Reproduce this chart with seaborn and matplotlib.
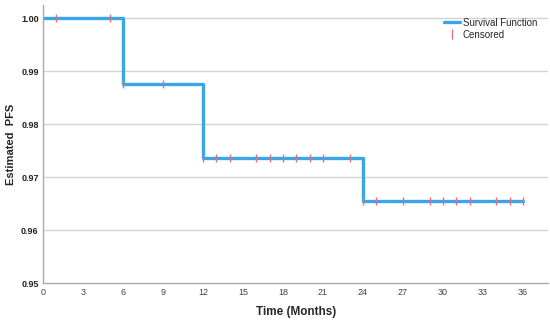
import seaborn as sns
import pandas as pd
import matplotlib.pyplot as plt
from matplotlib.lines import Line2D

# survival function (step changes)
step_time = [0, 6, 12, 24, 36]
step_surv = [1.0, 0.9875, 0.9737, 0.9656, 0.9656]

# censored observations
cens_time = [1, 5, 6, 9, 12, 13, 14, 16, 17, 18, 19, 20, 21, 23,
             24, 25, 27, 29, 30, 31, 32, 34, 35, 36]
cens_surv = [1.0, 1.0, 0.9875, 0.9875] + [0.9737] * 10 + [0.9656] * 10

x_ticks = list(range(0, 37, 3))
y_ticks = [0.95, 0.96, 0.97, 0.98, 0.99, 1.00]

sns.set_style('white')
plt.rcParams['font.family'] = ['Liberation Sans', 'DejaVu Sans']

line_color = '#3aa6e6'
cens_color = '#e0707e'

df_step = pd.DataFrame({'Time': step_time, 'Survival': step_surv})
df_cens = pd.DataFrame({'Time': cens_time, 'Survival': cens_surv})

fig, ax = plt.subplots(figsize=(5.5, 3.22), dpi=100)
fig.subplots_adjust(left=0.078, right=0.997, top=0.985, bottom=0.12)

for y in y_ticks[1:]:
    ax.axhline(y, color='#d4d4d4', lw=1.0, zorder=0)

sns.lineplot(data=df_step, x='Time', y='Survival', drawstyle='steps-post',
             color=line_color, lw=2.4, ax=ax, zorder=2)
sns.scatterplot(data=df_cens, x='Time', y='Survival', marker='|', s=38,
                color=cens_color, linewidth=1.0, ax=ax, zorder=3)

ax.set_xlim(0, 37.9)
ax.set_ylim(0.95, 1.0025)
ax.set_xticks(x_ticks)
ax.set_xticklabels([str(t) for t in x_ticks], fontsize=6.5, color='#444444')
ax.set_yticks(y_ticks)
ax.set_yticklabels([f'{v:.2f}' for v in y_ticks], fontsize=6.5, fontweight='bold', color='#222222')
ax.tick_params(axis='both', length=0, pad=3)
ax.set_xlabel('Time (Months)', fontsize=8.5, fontweight='bold', labelpad=7)
ax.set_ylabel('Estimated  PFS', fontsize=8, fontweight='bold', labelpad=4)

for side in ['top', 'right']:
    ax.spines[side].set_visible(False)
for side in ['left', 'bottom']:
    ax.spines[side].set_color('#aaaaaa')
    ax.spines[side].set_linewidth(1.0)

handles = [Line2D([0], [0], color=line_color, lw=2.4),
           Line2D([0], [0], color=cens_color, marker='|', ls='none', markersize=7, mew=1.0)]
ax.legend(handles, ['Survival Function', 'Censored'], loc='upper right',
          bbox_to_anchor=(0.995, 0.985), frameon=False, fontsize=7,
          handlelength=1.6, handletextpad=0.3, labelspacing=0.2)

plt.savefig('out.png', dpi=100)
plt.close()
